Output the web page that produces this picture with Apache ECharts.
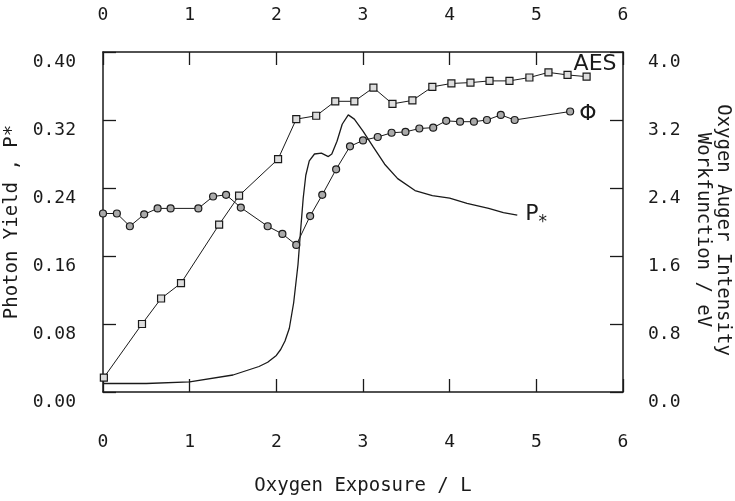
<!DOCTYPE html>
<html>
<head>
<meta charset="utf-8">
<script src="https://cdn.jsdelivr.net/npm/echarts@6/dist/echarts.min.js"></script>
<style>
html,body{margin:0;padding:0;background:#fff;}
#chart{width:735px;height:501px;}
</style>
</head>
<body>
<div id="chart"></div>
<script>
// Oxygen exposure (L) tick labels
const xTickLabels = ['0','1','2','3','4','5','6'];
const leftTickLabels = ['0.00','0.08','0.16','0.24','0.32','0.40'];
const rightTickLabels = ['0.0','0.8','1.6','2.4','3.2','4.0'];

// Photon yield P* (left axis)
const pStarX = [0.0,0.5,1.0,1.5,1.8,1.9,2.0,2.05,2.1,2.15,2.2,2.25,2.28,2.31,2.34,2.38,2.44,2.52,2.60,2.64,2.70,2.76,2.83,2.90,3.00,3.12,3.25,3.40,3.60,3.80,4.00,4.20,4.45,4.62,4.78];
const pStarY = [0.010,0.010,0.012,0.020,0.030,0.035,0.043,0.050,0.060,0.075,0.105,0.150,0.190,0.228,0.255,0.272,0.280,0.281,0.277,0.280,0.295,0.315,0.326,0.321,0.307,0.288,0.268,0.251,0.237,0.231,0.228,0.222,0.216,0.211,0.208];

// Oxygen Auger intensity AES (right axis scale)
const aesX = [0.01,0.45,0.67,0.90,1.34,1.57,2.02,2.23,2.46,2.68,2.90,3.12,3.34,3.57,3.80,4.02,4.24,4.46,4.69,4.92,5.14,5.36,5.58];
const aesY = [0.17,0.80,1.10,1.28,1.97,2.31,2.74,3.21,3.25,3.42,3.42,3.58,3.39,3.43,3.59,3.63,3.64,3.66,3.66,3.70,3.76,3.73,3.71];

// Workfunction Phi (eV, right axis)
const phiX = [0.0,0.16,0.31,0.475,0.63,0.78,1.10,1.27,1.42,1.59,1.90,2.07,2.23,2.39,2.53,2.69,2.85,3.00,3.17,3.33,3.49,3.65,3.81,3.96,4.12,4.28,4.43,4.59,4.75,5.39];
const phiY = [2.10,2.10,1.95,2.09,2.16,2.16,2.16,2.30,2.32,2.17,1.95,1.86,1.73,2.07,2.32,2.62,2.89,2.96,3.00,3.05,3.06,3.10,3.11,3.19,3.18,3.18,3.20,3.26,3.20,3.30];

const zip = (a,b)=>a.map((v,i)=>[v,b[i]]);
const FONT = 'DejaVu Sans Mono';
const INK = '#1a1a1a';
const txt = {fontFamily: FONT, fontSize: 18, color: INK};
const nameTxt = {fontFamily: FONT, fontSize: 19, color: INK};

const axisLine = {show:true, onZero:false, lineStyle:{color:INK, width:1.5}};
const axisTick = {show:true, inside:true, length:13, lineStyle:{color:INK, width:1.3}};

const chart = echarts.init(document.getElementById('chart'), null, {renderer:'canvas'});
chart.setOption({
  animation:false,
  backgroundColor:'#fff',
  grid:{left:103, right:112, top:52, bottom:109, containLabel:false, outerBoundsMode:'none'},
  xAxis:[
    {type:'value', min:0, max:6, interval:1, position:'bottom',
     axisLine, axisTick, splitLine:{show:false},
     axisLabel:Object.assign({margin:41, formatter:(v)=>xTickLabels[Math.round(v)]}, txt),
     name:'Oxygen Exposure / L', nameLocation:'middle', nameGap:85,
     nameTextStyle:Object.assign({}, nameTxt)},
    {type:'value', min:0, max:6, interval:1, position:'top',
     axisLine, axisTick, splitLine:{show:false},
     axisLabel:Object.assign({margin:28, formatter:(v)=>xTickLabels[Math.round(v)]}, txt)}
  ],
  yAxis:[
    {type:'value', min:0, max:0.4, interval:0.08, position:'left',
     axisLine, axisTick, splitLine:{show:false},
     axisLabel:Object.assign({margin:27, verticalAlign:'top', padding:[1,0,0,0],
       formatter:(v)=>leftTickLabels[Math.round(v/0.08)]}, txt),
     name:'Photon Yield , P*', nameLocation:'middle', nameGap:76, nameRotate:90,
     nameTextStyle:Object.assign({}, nameTxt)},
    {type:'value', min:0, max:4, interval:0.8, position:'right',
     axisLine, axisTick, splitLine:{show:false},
     axisLabel:Object.assign({margin:25, verticalAlign:'top', padding:[1,0,0,0],
       formatter:(v)=>rightTickLabels[Math.round(v/0.8)]}, txt),
     name:'Oxygen Auger Intensity\nWorkfunction / eV', nameLocation:'middle', nameGap:70, nameRotate:-90,
     nameTextStyle:Object.assign({lineHeight:20, align:'center', padding:[0,0,0,16]}, nameTxt)}
  ],
  series:[
    {type:'line', name:'P*', xAxisIndex:0, yAxisIndex:0, data:zip(pStarX,pStarY),
     showSymbol:false, symbol:'none', lineStyle:{color:INK, width:1.3},
     endLabel:{show:true, formatter:'{p|P}{s|*}', offset:[0,-1],
       rich:{p:{fontFamily:'DejaVu Sans', fontSize:22, color:INK},
             s:{fontFamily:'DejaVu Sans', fontSize:17, color:INK, padding:[16,0,0,0]}}}},
    {type:'line', name:'AES', xAxisIndex:0, yAxisIndex:1, data:zip(aesX,aesY),
     symbol:'rect', symbolSize:7, lineStyle:{color:INK, width:1},
     itemStyle:{color:'#ddd', borderColor:INK, borderWidth:1.2},
     endLabel:{show:true, formatter:'AES', offset:[-21,-12],
       fontFamily:'DejaVu Sans', fontSize:22, color:INK}},
    {type:'line', name:'Phi', xAxisIndex:0, yAxisIndex:1, data:zip(phiX,phiY),
     symbol:'circle', symbolSize:7, lineStyle:{color:INK, width:1},
     itemStyle:{color:'#aaa', borderColor:INK, borderWidth:1.2},
     endLabel:{show:true, formatter:'Φ', offset:[1,3],
       fontFamily:'DejaVu Sans', fontSize:22, color:INK}}
  ]
});
</script>
</body>
</html>
